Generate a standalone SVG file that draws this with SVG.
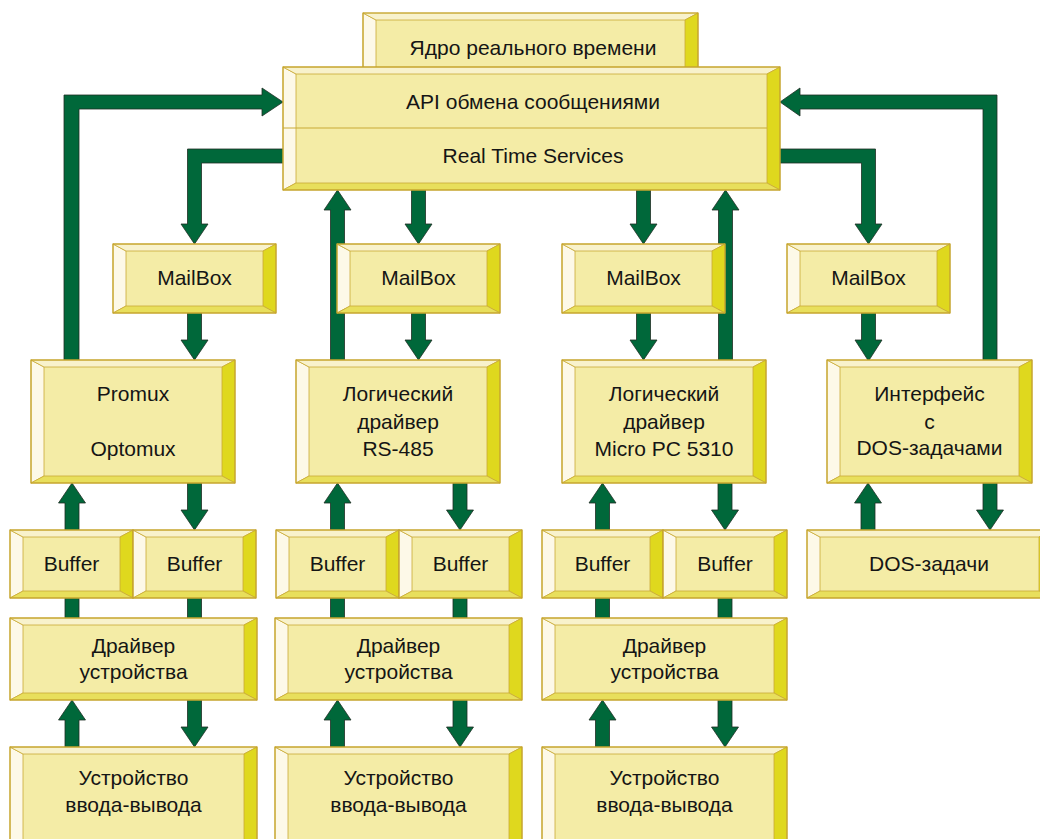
<svg xmlns="http://www.w3.org/2000/svg" width="1040" height="839" viewBox="0 0 1040 839">
<style>
.face{fill:#f4eca6}
.bl{fill:#fdf9e8;stroke:#c9aa35;stroke-width:0.8}
.bt{fill:#f8f2cc;stroke:#c9aa35;stroke-width:0.8}
.br{fill:#dfd81e;stroke:#c9aa35;stroke-width:0.8}
.bb{fill:#e8df5c;stroke:#c9aa35;stroke-width:0.8}
.ol{fill:none;stroke:#c6a52e;stroke-width:1.2}
.sep{stroke:#c9aa35;stroke-width:1}
.ar{fill:#00683a;stroke:#1f2f25;stroke-width:0.8}
text{font-family:"Liberation Sans",Arial,sans-serif;font-size:21px;fill:#151515;text-anchor:middle}
</style>
<rect width="1040" height="839" fill="#ffffff"/>
<g id="connectors">
<polygon class="ar" points="64,362 64,95 262,95 262,88 283,102 262,116 262,109 79,109 79,362"/>
<polygon class="ar" points="285,149 187.5,149 187.5,224 181,224 194.5,244 208,224 201.5,224 201.5,163 285,163"/>
<polygon class="ar" points="997,363 997,95 800,95 800,88 780,102 800,116 800,109 983,109 983,363"/>
<polygon class="ar" points="778,149 875.5,149 875.5,224 882,224 868.5,244 855,224 861.5,224 861.5,163 778,163"/>
<polygon class="ar" points="411.5,188 425.5,188 425.5,224 432,224 418.5,244 405,224 411.5,224"/>
<polygon class="ar" points="636.5,188 650.5,188 650.5,224 657,224 643.5,244 630,224 636.5,224"/>
<polygon class="ar" points="330.5,362 330.5,210 324,210 337.5,190 351,210 344.5,210 344.5,362"/>
<polygon class="ar" points="718.5,362 718.5,210 712,210 725.5,190 739,210 732.5,210 732.5,362"/>
<polygon class="ar" points="187.5,311 201.5,311 201.5,340 208,340 194.5,360 181,340 187.5,340"/>
<polygon class="ar" points="411.5,311 425.5,311 425.5,340 432,340 418.5,360 405,340 411.5,340"/>
<polygon class="ar" points="636.5,311 650.5,311 650.5,340 657,340 643.5,360 630,340 636.5,340"/>
<polygon class="ar" points="861.5,311 875.5,311 875.5,340 882,340 868.5,361 855,340 861.5,340"/>
<polygon class="ar" points="65,620 65,503 58.5,503 72,483 85.5,503 79,503 79,620"/>
<polygon class="ar" points="187.5,481 201.5,481 201.5,510 208,510 194.5,530 181,510 187.5,510"/>
<rect class="ar" x="187.5" y="596" width="14" height="24"/>
<polygon class="ar" points="330.5,620 330.5,503 324,503 337.5,483 351,503 344.5,503 344.5,620"/>
<polygon class="ar" points="453,481 467,481 467,510 473.5,510 460,530 446.5,510 453,510"/>
<rect class="ar" x="453" y="596" width="14" height="24"/>
<polygon class="ar" points="595.5,620 595.5,503 589,503 602.5,483 616,503 609.5,503 609.5,620"/>
<polygon class="ar" points="718,481 732,481 732,510 738.5,510 725,530 711.5,510 718,510"/>
<rect class="ar" x="718" y="596" width="14" height="24"/>
<polygon class="ar" points="861,532 861,503 854.5,503 868,483 881.5,503 875,503 875,532"/>
<polygon class="ar" points="983,481 997,481 997,510 1003.5,510 990,530 976.5,510 983,510"/>
<polygon class="ar" points="65,749 65,720 58.5,720 72,700 85.5,720 79,720 79,749"/>
<polygon class="ar" points="187.5,698 201.5,698 201.5,727 208,727 194.5,747 181,727 187.5,727"/>
<polygon class="ar" points="330.5,749 330.5,720 324,720 337.5,700 351,720 344.5,720 344.5,749"/>
<polygon class="ar" points="453,698 467,698 467,727 473.5,727 460,747 446.5,727 453,727"/>
<polygon class="ar" points="595.5,749 595.5,720 589,720 602.5,700 616,720 609.5,720 609.5,749"/>
<polygon class="ar" points="718,698 732,698 732,727 738.5,727 725,747 711.5,727 718,727"/>
</g>
<g id="kernel">
<rect class="face" x="376" y="20" width="309" height="60"/>
<polygon class="bl" points="363,13 376,20 376,80 363,80"/>
<polygon class="bt" points="363,13 698,13 685,20 376,20"/>
<polygon class="br" points="698,13 698,80 685,80 685,20"/>
<path class="ol" d="M363,80 V13 H698 V80"/>
<text x="533" y="55">Ядро реального времени</text>
</g>
<g id="api">
<rect class="face" x="296" y="74" width="471" height="109"/>
<polygon class="bl" points="283,67 296,74 296,183 283,190"/>
<polygon class="bt" points="283,67 780,67 767,74 296,74"/>
<polygon class="br" points="780,67 780,190 767,183 767,74"/>
<polygon class="bb" points="283,190 296,183 767,183 780,190"/>
<rect class="ol" x="283" y="67" width="497" height="123"/>
<line class="sep" x1="283" y1="128" x2="767" y2="128"/>
<text x="533" y="109">API обмена сообщениями</text>
<text x="533" y="163">Real Time Services</text>
</g>
<g id="mailbox1">
<rect class="face" x="126" y="251" width="137" height="55"/>
<polygon class="bl" points="113,244 126,251 126,306 113,313"/>
<polygon class="bt" points="113,244 276,244 263,251 126,251"/>
<polygon class="br" points="276,244 276,313 263,306 263,251"/>
<polygon class="bb" points="113,313 126,306 263,306 276,313"/>
<rect class="ol" x="113" y="244" width="163" height="69"/>
<text x="194.5" y="285">MailBox</text>
</g>
<g id="mailbox2">
<rect class="face" x="350" y="251" width="137" height="55"/>
<polygon class="bl" points="337,244 350,251 350,306 337,313"/>
<polygon class="bt" points="337,244 500,244 487,251 350,251"/>
<polygon class="br" points="500,244 500,313 487,306 487,251"/>
<polygon class="bb" points="337,313 350,306 487,306 500,313"/>
<rect class="ol" x="337" y="244" width="163" height="69"/>
<text x="418.5" y="285">MailBox</text>
</g>
<g id="mailbox3">
<rect class="face" x="575" y="251" width="137" height="55"/>
<polygon class="bl" points="562,244 575,251 575,306 562,313"/>
<polygon class="bt" points="562,244 725,244 712,251 575,251"/>
<polygon class="br" points="725,244 725,313 712,306 712,251"/>
<polygon class="bb" points="562,313 575,306 712,306 725,313"/>
<rect class="ol" x="562" y="244" width="163" height="69"/>
<text x="643.5" y="285">MailBox</text>
</g>
<g id="mailbox4">
<rect class="face" x="800" y="251" width="137" height="55"/>
<polygon class="bl" points="787,244 800,251 800,306 787,313"/>
<polygon class="bt" points="787,244 950,244 937,251 800,251"/>
<polygon class="br" points="950,244 950,313 937,306 937,251"/>
<polygon class="bb" points="787,313 800,306 937,306 950,313"/>
<rect class="ol" x="787" y="244" width="163" height="69"/>
<text x="868.5" y="285">MailBox</text>
</g>
<g id="promux">
<rect class="face" x="44" y="367" width="178" height="109"/>
<polygon class="bl" points="31,360 44,367 44,476 31,483"/>
<polygon class="bt" points="31,360 235,360 222,367 44,367"/>
<polygon class="br" points="235,360 235,483 222,476 222,367"/>
<polygon class="bb" points="31,483 44,476 222,476 235,483"/>
<rect class="ol" x="31" y="360" width="204" height="123"/>
<text x="133" y="401">Promux</text>
<text x="133" y="456">Optomux</text>
</g>
<g id="rs485">
<rect class="face" x="309" y="367" width="178" height="109"/>
<polygon class="bl" points="296,360 309,367 309,476 296,483"/>
<polygon class="bt" points="296,360 500,360 487,367 309,367"/>
<polygon class="br" points="500,360 500,483 487,476 487,367"/>
<polygon class="bb" points="296,483 309,476 487,476 500,483"/>
<rect class="ol" x="296" y="360" width="204" height="123"/>
<text x="398" y="401">Логический</text>
<text x="398" y="429">драйвер</text>
<text x="398" y="456">RS-485</text>
</g>
<g id="micropc">
<rect class="face" x="575" y="367" width="178" height="109"/>
<polygon class="bl" points="562,360 575,367 575,476 562,483"/>
<polygon class="bt" points="562,360 766,360 753,367 575,367"/>
<polygon class="br" points="766,360 766,483 753,476 753,367"/>
<polygon class="bb" points="562,483 575,476 753,476 766,483"/>
<rect class="ol" x="562" y="360" width="204" height="123"/>
<text x="664" y="401">Логический</text>
<text x="664" y="429">драйвер</text>
<text x="664" y="456">Micro PC 5310</text>
</g>
<g id="dosif">
<rect class="face" x="840" y="367" width="179" height="109"/>
<polygon class="bl" points="827,360 840,367 840,476 827,483"/>
<polygon class="bt" points="827,360 1032,360 1019,367 840,367"/>
<polygon class="br" points="1032,360 1032,483 1019,476 1019,367"/>
<polygon class="bb" points="827,483 840,476 1019,476 1032,483"/>
<rect class="ol" x="827" y="360" width="205" height="123"/>
<text x="929.5" y="401">Интерфейс</text>
<text x="929.5" y="429">с</text>
<text x="929.5" y="455">DOS-задачами</text>
</g>
<g id="buffer1">
<rect class="face" x="23" y="537" width="97" height="54"/>
<polygon class="bl" points="10,530 23,537 23,591 10,598"/>
<polygon class="bt" points="10,530 133,530 120,537 23,537"/>
<polygon class="br" points="133,530 133,598 120,591 120,537"/>
<polygon class="bb" points="10,598 23,591 120,591 133,598"/>
<rect class="ol" x="10" y="530" width="123" height="68"/>
<text x="71.5" y="571">Buffer</text>
</g>
<g id="buffer2">
<rect class="face" x="146" y="537" width="97" height="54"/>
<polygon class="bl" points="133,530 146,537 146,591 133,598"/>
<polygon class="bt" points="133,530 256,530 243,537 146,537"/>
<polygon class="br" points="256,530 256,598 243,591 243,537"/>
<polygon class="bb" points="133,598 146,591 243,591 256,598"/>
<rect class="ol" x="133" y="530" width="123" height="68"/>
<text x="194.5" y="571">Buffer</text>
</g>
<g id="buffer3">
<rect class="face" x="289" y="537" width="97" height="54"/>
<polygon class="bl" points="276,530 289,537 289,591 276,598"/>
<polygon class="bt" points="276,530 399,530 386,537 289,537"/>
<polygon class="br" points="399,530 399,598 386,591 386,537"/>
<polygon class="bb" points="276,598 289,591 386,591 399,598"/>
<rect class="ol" x="276" y="530" width="123" height="68"/>
<text x="337.5" y="571">Buffer</text>
</g>
<g id="buffer4">
<rect class="face" x="412" y="537" width="97" height="54"/>
<polygon class="bl" points="399,530 412,537 412,591 399,598"/>
<polygon class="bt" points="399,530 522,530 509,537 412,537"/>
<polygon class="br" points="522,530 522,598 509,591 509,537"/>
<polygon class="bb" points="399,598 412,591 509,591 522,598"/>
<rect class="ol" x="399" y="530" width="123" height="68"/>
<text x="460.5" y="571">Buffer</text>
</g>
<g id="buffer5">
<rect class="face" x="555" y="537" width="95" height="54"/>
<polygon class="bl" points="542,530 555,537 555,591 542,598"/>
<polygon class="bt" points="542,530 663,530 650,537 555,537"/>
<polygon class="br" points="663,530 663,598 650,591 650,537"/>
<polygon class="bb" points="542,598 555,591 650,591 663,598"/>
<rect class="ol" x="542" y="530" width="121" height="68"/>
<text x="602.5" y="571">Buffer</text>
</g>
<g id="buffer6">
<rect class="face" x="676" y="537" width="98" height="54"/>
<polygon class="bl" points="663,530 676,537 676,591 663,598"/>
<polygon class="bt" points="663,530 787,530 774,537 676,537"/>
<polygon class="br" points="787,530 787,598 774,591 774,537"/>
<polygon class="bb" points="663,598 676,591 774,591 787,598"/>
<rect class="ol" x="663" y="530" width="124" height="68"/>
<text x="725" y="571">Buffer</text>
</g>
<g id="dostasks">
<rect class="face" x="820" y="537" width="219" height="54"/>
<polygon class="bl" points="807,530 820,537 820,591 807,598"/>
<polygon class="bt" points="807,530 1052,530 1039,537 820,537"/>
<polygon class="br" points="1052,530 1052,598 1039,591 1039,537"/>
<polygon class="bb" points="807,598 820,591 1039,591 1052,598"/>
<rect class="ol" x="807" y="530" width="245" height="68"/>
<text x="929" y="571">DOS-задачи</text>
</g>
<g id="driver1">
<rect class="face" x="23" y="625" width="221" height="68"/>
<polygon class="bl" points="10,618 23,625 23,693 10,700"/>
<polygon class="bt" points="10,618 257,618 244,625 23,625"/>
<polygon class="br" points="257,618 257,700 244,693 244,625"/>
<polygon class="bb" points="10,700 23,693 244,693 257,700"/>
<rect class="ol" x="10" y="618" width="247" height="82"/>
<text x="133.5" y="653">Драйвер</text>
<text x="133.5" y="679">устройства</text>
</g>
<g id="driver2">
<rect class="face" x="288" y="625" width="221" height="68"/>
<polygon class="bl" points="275,618 288,625 288,693 275,700"/>
<polygon class="bt" points="275,618 522,618 509,625 288,625"/>
<polygon class="br" points="522,618 522,700 509,693 509,625"/>
<polygon class="bb" points="275,700 288,693 509,693 522,700"/>
<rect class="ol" x="275" y="618" width="247" height="82"/>
<text x="398.5" y="653">Драйвер</text>
<text x="398.5" y="679">устройства</text>
</g>
<g id="driver3">
<rect class="face" x="555" y="625" width="219" height="68"/>
<polygon class="bl" points="542,618 555,625 555,693 542,700"/>
<polygon class="bt" points="542,618 787,618 774,625 555,625"/>
<polygon class="br" points="787,618 787,700 774,693 774,625"/>
<polygon class="bb" points="542,700 555,693 774,693 787,700"/>
<rect class="ol" x="542" y="618" width="245" height="82"/>
<text x="664.5" y="653">Драйвер</text>
<text x="664.5" y="679">устройства</text>
</g>
<g id="device1">
<rect class="face" x="23" y="754" width="221" height="86"/>
<polygon class="bl" points="10,747 23,754 23,840 10,847"/>
<polygon class="bt" points="10,747 257,747 244,754 23,754"/>
<polygon class="br" points="257,747 257,847 244,840 244,754"/>
<polygon class="bb" points="10,847 23,840 244,840 257,847"/>
<rect class="ol" x="10" y="747" width="247" height="100"/>
<text x="133.5" y="785">Устройство</text>
<text x="133.5" y="812">ввода-вывода</text>
</g>
<g id="device2">
<rect class="face" x="288" y="754" width="221" height="86"/>
<polygon class="bl" points="275,747 288,754 288,840 275,847"/>
<polygon class="bt" points="275,747 522,747 509,754 288,754"/>
<polygon class="br" points="522,747 522,847 509,840 509,754"/>
<polygon class="bb" points="275,847 288,840 509,840 522,847"/>
<rect class="ol" x="275" y="747" width="247" height="100"/>
<text x="398.5" y="785">Устройство</text>
<text x="398.5" y="812">ввода-вывода</text>
</g>
<g id="device3">
<rect class="face" x="555" y="754" width="219" height="86"/>
<polygon class="bl" points="542,747 555,754 555,840 542,847"/>
<polygon class="bt" points="542,747 787,747 774,754 555,754"/>
<polygon class="br" points="787,747 787,847 774,840 774,754"/>
<polygon class="bb" points="542,847 555,840 774,840 787,847"/>
<rect class="ol" x="542" y="747" width="245" height="100"/>
<text x="664.5" y="785">Устройство</text>
<text x="664.5" y="812">ввода-вывода</text>
</g>
</svg>
